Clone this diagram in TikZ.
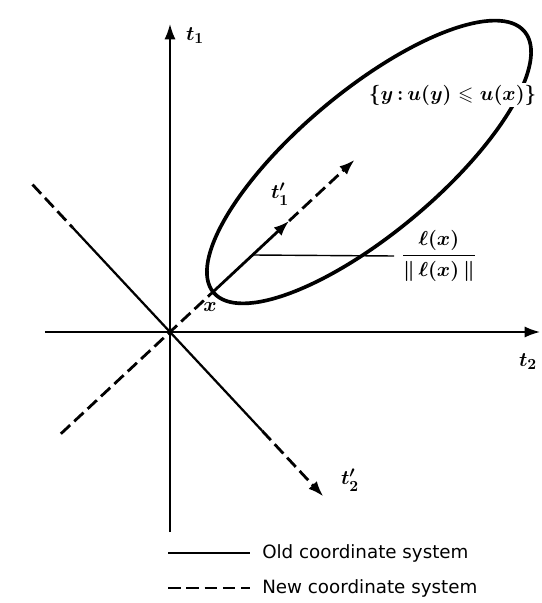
\documentclass[tikz,border=0pt]{standalone}
\usepackage{amsmath,amssymb}
\usepackage{fontspec}
\setmainfont{DejaVu Sans}
\usetikzlibrary{arrows.meta, positioning, calc}

\begin{document}
\begin{tikzpicture}[
    oldaxis/.style={line width=1.3pt, -{Latex[length=11pt,width=8pt]}},
    newaxis/.style={line width=2pt, dash pattern=on 9pt off 4pt},
    newtip/.style={-{Latex[length=11pt,width=8pt]}},
    level/.style={line width=2.6pt},
    leader/.style={line width=1pt},
    lbl/.style={font=\fontsize{15}{18}\selectfont\boldmath, inner sep=1pt},
    legendtxt/.style={font=\fontsize{13}{16}\selectfont, inner sep=0pt},
  ]
  \useasboundingbox (-4.25,-6.775) rectangle (9.3,8.3);
  % Old axes
  \coordinate (O) at (0,0);
  \coordinate (t1bot) at (0,-5.0);
  \coordinate (t1top) at (0,7.7);
  \coordinate (t2left) at (-3.125,0);
  \coordinate (t2right) at (9.25,0);
  \draw[oldaxis] (t1bot) -- (t1top);
  \draw[oldaxis] (t2left) -- (t2right);
  \node[lbl] (t1) at (0.625,7.4) {$t_1$};
  \node[lbl] (t2) at (8.95,-0.75) {$t_2$};
  % New axes
  \coordinate (n1low) at (223:3.73);
  \coordinate (xpt) at (43:1.47);
  \coordinate (grad) at (43:4.07);
  \coordinate (n1top) at (43:6.31);
  \coordinate (n2up) at (133:5.04);
  \coordinate (n2a) at (133:3.57);
  \coordinate (n2b) at (-47:3.38);
  \coordinate (n2top) at (-47:5.62);
  \draw[newaxis] (n1low) -- (xpt);
  \draw[newaxis, newtip] (grad) -- (n1top);
  \draw[newaxis] (n2up) -- (n2a);
  \draw[line width=1.6pt] (n2a) -- (O) -- (n2b);
  \draw[newaxis, newtip] (n2b) -- (n2top);
  \node[lbl] (t1p) at (2.75,3.45) {$t_1'$};
  \node[lbl] (t2p) at (4.5,-3.7) {$t_2'$};
  % Level set
  \draw[level, rotate around={40:(4.975,4.25)}] (4.975,4.25)
    ellipse [x radius=5.075, y radius=1.775];
  \node[lbl, fill=white, anchor=east, font=\fontsize{14}{17}\selectfont\boldmath]
    (set) at (9.2,5.925) {$\{y\,{:}\,u(y) \leqslant u(x)\}$};
  % Gradient direction
  \draw[line width=2pt, newtip] (xpt) -- (grad);
  \node[lbl] (xl) at (1.0,0.625) {$x$};
  \coordinate (lead) at (2.064,1.925);
  \node[lbl, anchor=west, inner sep=5pt, font=\fontsize{15.5}{19}\selectfont\boldmath]
    (frac) at (5.6,1.9) {$\dfrac{\ell(x)}{\|\,\ell(x)\,\|}$};
  \draw[leader] (lead) -- (frac.west);
  % Legend
  \coordinate (oldA) at (-0.05,-5.525);
  \coordinate (oldB) at (2.0,-5.525);
  \coordinate (newA) at (-0.05,-6.4);
  \coordinate (newB) at (2.0,-6.4);
  \draw[line width=1.6pt] (oldA) -- (oldB);
  \draw[newaxis] (newA) -- (newB);
  \node[legendtxt, right=0.3cm of oldB] (oldtxt) {Old coordinate system};
  \node[legendtxt, right=0.3cm of newB] (newtxt) {New coordinate system};
\end{tikzpicture}
\end{document}
